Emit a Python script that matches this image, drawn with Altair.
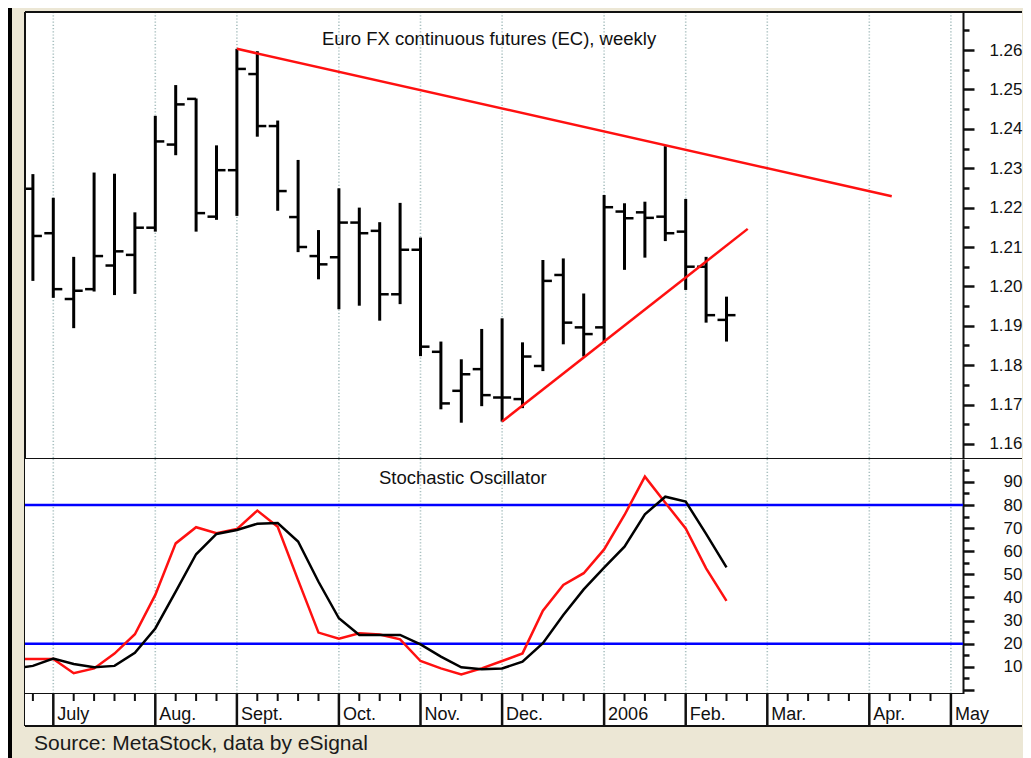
import altair as alt
import pandas as pd

# ---------------- data ----------------
week = list(range(35))
opens = [1.2248, 1.2135, 1.1968, 1.1993, 1.2053, 1.2080, 1.2149, 1.2360, 1.2476, 1.2177,
         1.2295, 1.2539, 1.2407, 1.2176, 1.2077, 1.2074, 1.2162, 1.2141, 1.1980, 1.2093,
         1.1834, 1.1735, 1.1790, 1.1718, 1.1714, 1.1798, 1.2029, 1.1896, 1.1896, 1.2190,
         1.2188, 1.2177, 1.2139, 1.2050, 1.1915]
highs = [1.2285, 1.2225, 1.2075, 1.2289, 1.2286, 1.2188, 1.2433, 1.2511, 1.2477, 1.2358,
         1.2603, 1.2597, 1.2421, 1.2321, 1.2143, 1.2249, 1.2200, 1.2163, 1.2212, 1.2124,
         1.1860, 1.1815, 1.1892, 1.1919, 1.1858, 1.2067, 1.2071, 1.1982, 1.2232, 1.2211,
         1.2215, 1.2356, 1.2222, 1.2075, 1.1974]
lows = [1.2014, 1.1971, 1.1894, 1.1987, 1.1978, 1.1981, 1.2139, 1.2333, 1.2139, 1.2169,
        1.2179, 1.2380, 1.2192, 1.2087, 1.2018, 1.1942, 1.1951, 1.1913, 1.1955, 1.1823,
        1.1688, 1.1654, 1.1696, 1.1657, 1.1691, 1.1785, 1.1853, 1.1822, 1.1856, 1.2042,
        1.2073, 1.2115, 1.1991, 1.1908, 1.1860]
closes = [1.2128, 1.1993, 1.1989, 1.2077, 1.2089, 1.2149, 1.2368, 1.2462, 1.2186, 1.2295,
          1.2552, 1.2407, 1.2242, 1.2100, 1.2056, 1.2162, 1.2135, 1.1980, 1.2093, 1.1847,
          1.1703, 1.1777, 1.1724, 1.1718, 1.1822, 1.2014, 1.1908, 1.1879, 1.2201, 1.2173,
          1.2174, 1.2135, 1.2050, 1.1927, 1.1927]

stoch_week = list(range(-1, 35))
k_red = [13.3, 13.4, 13.4, 7.2, 9.3, 15.7, 24.1, 41.1, 63.4, 70.4, 67.8, 69.6, 77.6, 70.6,
         47.5, 24.8, 22.2, 24.5, 24.0, 21.9, 12.5, 9.3, 6.7, 9.3, 12.5, 15.8, 34.3, 45.4,
         50.5, 60.8, 75.7, 92.3, 81.0, 69.9, 52.6, 38.5]
d_black = [9.2, 10.4, 13.6, 11.2, 9.8, 10.4, 16.1, 26.6, 42.5, 58.7, 67.5, 69.2, 71.9, 72.2,
           64.2, 46.8, 31.0, 23.8, 23.8, 23.8, 19.7, 14.4, 9.8, 8.9, 9.3, 12.2, 20.2, 32.4,
           43.5, 52.9, 62.0, 76.0, 83.6, 81.5, 67.5, 53.0]

months = ["July", "Aug.", "Sept.", "Oct.", "Nov.", "Dec.", "2006", "Feb.", "Mar.", "Apr.", "May"]
month_week = [1, 6, 10, 15, 19, 23, 28, 32, 36, 41, 45]
tick_week = [w for w in range(45) if w not in month_week]

trend_id = ["upper", "upper", "lower", "lower"]
trend_week = [10, 42.1, 23, 35.04]
trend_price = [1.2603, 1.2229, 1.1657, 1.2146]

price_ticks = [round(1.16 + 0.005 * k, 3) for k in range(22)]
stoch_ticks = list(range(0, 100, 5))
levels = [20, 80]

title_top = "Euro FX continuous futures (EC), weekly"
title_mid = "Stochastic Oscillator"
source = "Source: MetaStock, data by eSignal"

# ---------------- layout / style ----------------
W = 997
H_TOP, H_MID, H_STRIP = 447, 235, 32
AXIS_X = 938
FONT = "Liberation Sans"
INK = "#111111"
BEIGE = "#ECE7D5"
GRID = "#a9c0c0"
RED = "#ff1010"

xs = alt.Scale(domain=[-0.387, 48.485], nice=False, zero=False)
X = alt.X("week:Q", scale=xs, axis=None)

ys_top = alt.Scale(domain=[1.15619, 1.26965], nice=False, zero=False)
ys_mid = alt.Scale(domain=[-1.77, 99.92], nice=False, zero=False)


def right_axis(values, major_test, label_expr):
    return alt.Axis(
        orient="right", offset=AXIS_X - W, values=values, title=None, grid=False,
        tickSize={"condition": {"test": major_test, "value": 11}, "value": 6},
        tickWidth=2.5, tickColor=INK, domainColor=INK, domainWidth=2,
        labelExpr=label_expr, labelAlign="right", labelBaseline="middle",
        labelPadding=48, labelFontSize=17, labelFont=FONT, labelColor=INK,
        labelOverlap=False, labelFlush=False,
    )


ax_top = right_axis(price_ticks, "round(datum.value*200) % 2 == 0",
                    "round(datum.value*200) % 2 == 0 ? format(datum.value, '.2f') : ''")
ax_mid = right_axis(stoch_ticks, "datum.value % 10 == 0",
                    "(datum.value % 10 == 0 && datum.value > 0) ? datum.value : ''")

one = alt.Data(values=[{"t": ""}])

# ---------------- top panel ----------------
ohlc = pd.DataFrame({"week": week, "open": opens, "high": highs, "low": lows, "close": closes})
grid_df = pd.DataFrame({"week": month_week, "month": months})
trend_df = pd.DataFrame({"id": trend_id, "week": trend_week, "price": trend_price})

grid_top = alt.Chart(grid_df).mark_rule(stroke=GRID, strokeWidth=1.6, strokeDash=[1.2, 2]).encode(x=X)
hl = alt.Chart(ohlc).mark_rule(color="black", strokeWidth=3).encode(
    x=X, y=alt.Y("low:Q", scale=ys_top, axis=ax_top, title=None), y2="high:Q")
op = alt.Chart(ohlc).mark_tick(orient="horizontal", size=9, thickness=2.5, color="black",
                               opacity=1, xOffset=-4.5, clip=True).encode(
    x=X, y=alt.Y("open:Q", scale=ys_top, axis=ax_top, title=None))
cl = alt.Chart(ohlc).mark_tick(orient="horizontal", size=9, thickness=2.5, color="black",
                               opacity=1, xOffset=4.5, clip=True).encode(
    x=X, y=alt.Y("close:Q", scale=ys_top, axis=ax_top, title=None))
trend = alt.Chart(trend_df).mark_line(color=RED, strokeWidth=2.5).encode(
    x=X, y=alt.Y("price:Q", scale=ys_top, axis=ax_top, title=None), detail="id:N")
ttl_top = alt.Chart(alt.Data(values=[{"t": title_top}])).mark_text(
    align="left", baseline="alphabetic", font=FONT, fontSize=18.5, color=INK).encode(
    x=alt.value(297), y=alt.value(33), text="t:N")
frame_top = alt.layer(
    alt.Chart(one).mark_rule(color=INK, strokeWidth=2).encode(
        x=alt.value(0), x2=alt.value(W), y=alt.value(0)),
    alt.Chart(one).mark_rule(color=INK, strokeWidth=2).encode(
        x=alt.value(0), x2=alt.value(W), y=alt.value(H_TOP)),
    alt.Chart(one).mark_rule(color=INK, strokeWidth=2).encode(
        x=alt.value(0), y=alt.value(0), y2=alt.value(H_TOP + H_MID + H_STRIP)),
    alt.Chart(one).mark_rect(color="black").encode(
        x=alt.value(-17), x2=alt.value(-13), y=alt.value(-4), y2=alt.value(746)),
)
top = alt.layer(grid_top, hl, op, cl, trend, ttl_top, frame_top).properties(width=W, height=H_TOP)

# ---------------- oscillator panel ----------------
stoch_df = pd.DataFrame({"week": stoch_week, "k": k_red, "d": d_black})
lvl_df = pd.DataFrame({"level": levels})

grid_mid = alt.Chart(grid_df).mark_rule(stroke=GRID, strokeWidth=1.6, strokeDash=[1.2, 2]).encode(x=X)
lvl = alt.Chart(lvl_df).mark_rule(color="#0000ff", strokeWidth=2.5).encode(
    y=alt.Y("level:Q", scale=ys_mid, axis=ax_mid, title=None), x=alt.value(0), x2=alt.value(AXIS_X))
k_line = alt.Chart(stoch_df).mark_line(color=RED, strokeWidth=2.5, clip=True).encode(
    x=X, y=alt.Y("k:Q", scale=ys_mid, axis=ax_mid, title=None))
d_line = alt.Chart(stoch_df).mark_line(color="black", strokeWidth=2.5, clip=True).encode(
    x=X, y=alt.Y("d:Q", scale=ys_mid, axis=ax_mid, title=None))
ttl_mid = alt.Chart(alt.Data(values=[{"t": title_mid}])).mark_text(
    align="left", baseline="alphabetic", font=FONT, fontSize=18.5, color=INK).encode(
    x=alt.value(354), y=alt.value(25), text="t:N")
frame_mid = alt.Chart(one).mark_rule(color=INK, strokeWidth=2).encode(
    x=alt.value(0), x2=alt.value(AXIS_X), y=alt.value(H_MID))
mid = alt.layer(grid_mid, lvl, k_line, d_line, ttl_mid, frame_mid).properties(width=W, height=H_MID)

# ---------------- month strip ----------------
tick_df = pd.DataFrame({"week": tick_week})
bounds_ = alt.Chart(grid_df).mark_rule(color=INK, strokeWidth=2.5).encode(
    x=X, y=alt.value(0), y2=alt.value(H_STRIP))
wticks = alt.Chart(tick_df).mark_rule(color=INK, strokeWidth=2).encode(
    x=X, y=alt.value(0), y2=alt.value(7))
mlabels = alt.Chart(grid_df).mark_text(align="left", baseline="alphabetic", dx=4,
                                       font=FONT, fontSize=18, color=INK).encode(
    x=X, y=alt.value(26), text="month:N")
frame_strip = alt.Chart(one).mark_rule(color=INK, strokeWidth=2).encode(
    x=alt.value(0), x2=alt.value(W), y=alt.value(H_STRIP))
src = alt.Chart(alt.Data(values=[{"t": source}])).mark_text(
    align="left", baseline="alphabetic", font=FONT, fontSize=21, color="#1a1a1a").encode(
    x=alt.value(9), y=alt.value(56), text="t:N")
strip = alt.layer(bounds_, wticks, mlabels, frame_strip, src).properties(width=W, height=H_STRIP)

chart = (
    alt.vconcat(top, mid, strip, spacing=0)
    .properties(padding=0, bounds="flush")
    .configure(background=BEIGE)
    .configure_view(fill="white", strokeWidth=0)
)

chart.save("out.html", embed_options={"renderer": "svg", "actions": False})
